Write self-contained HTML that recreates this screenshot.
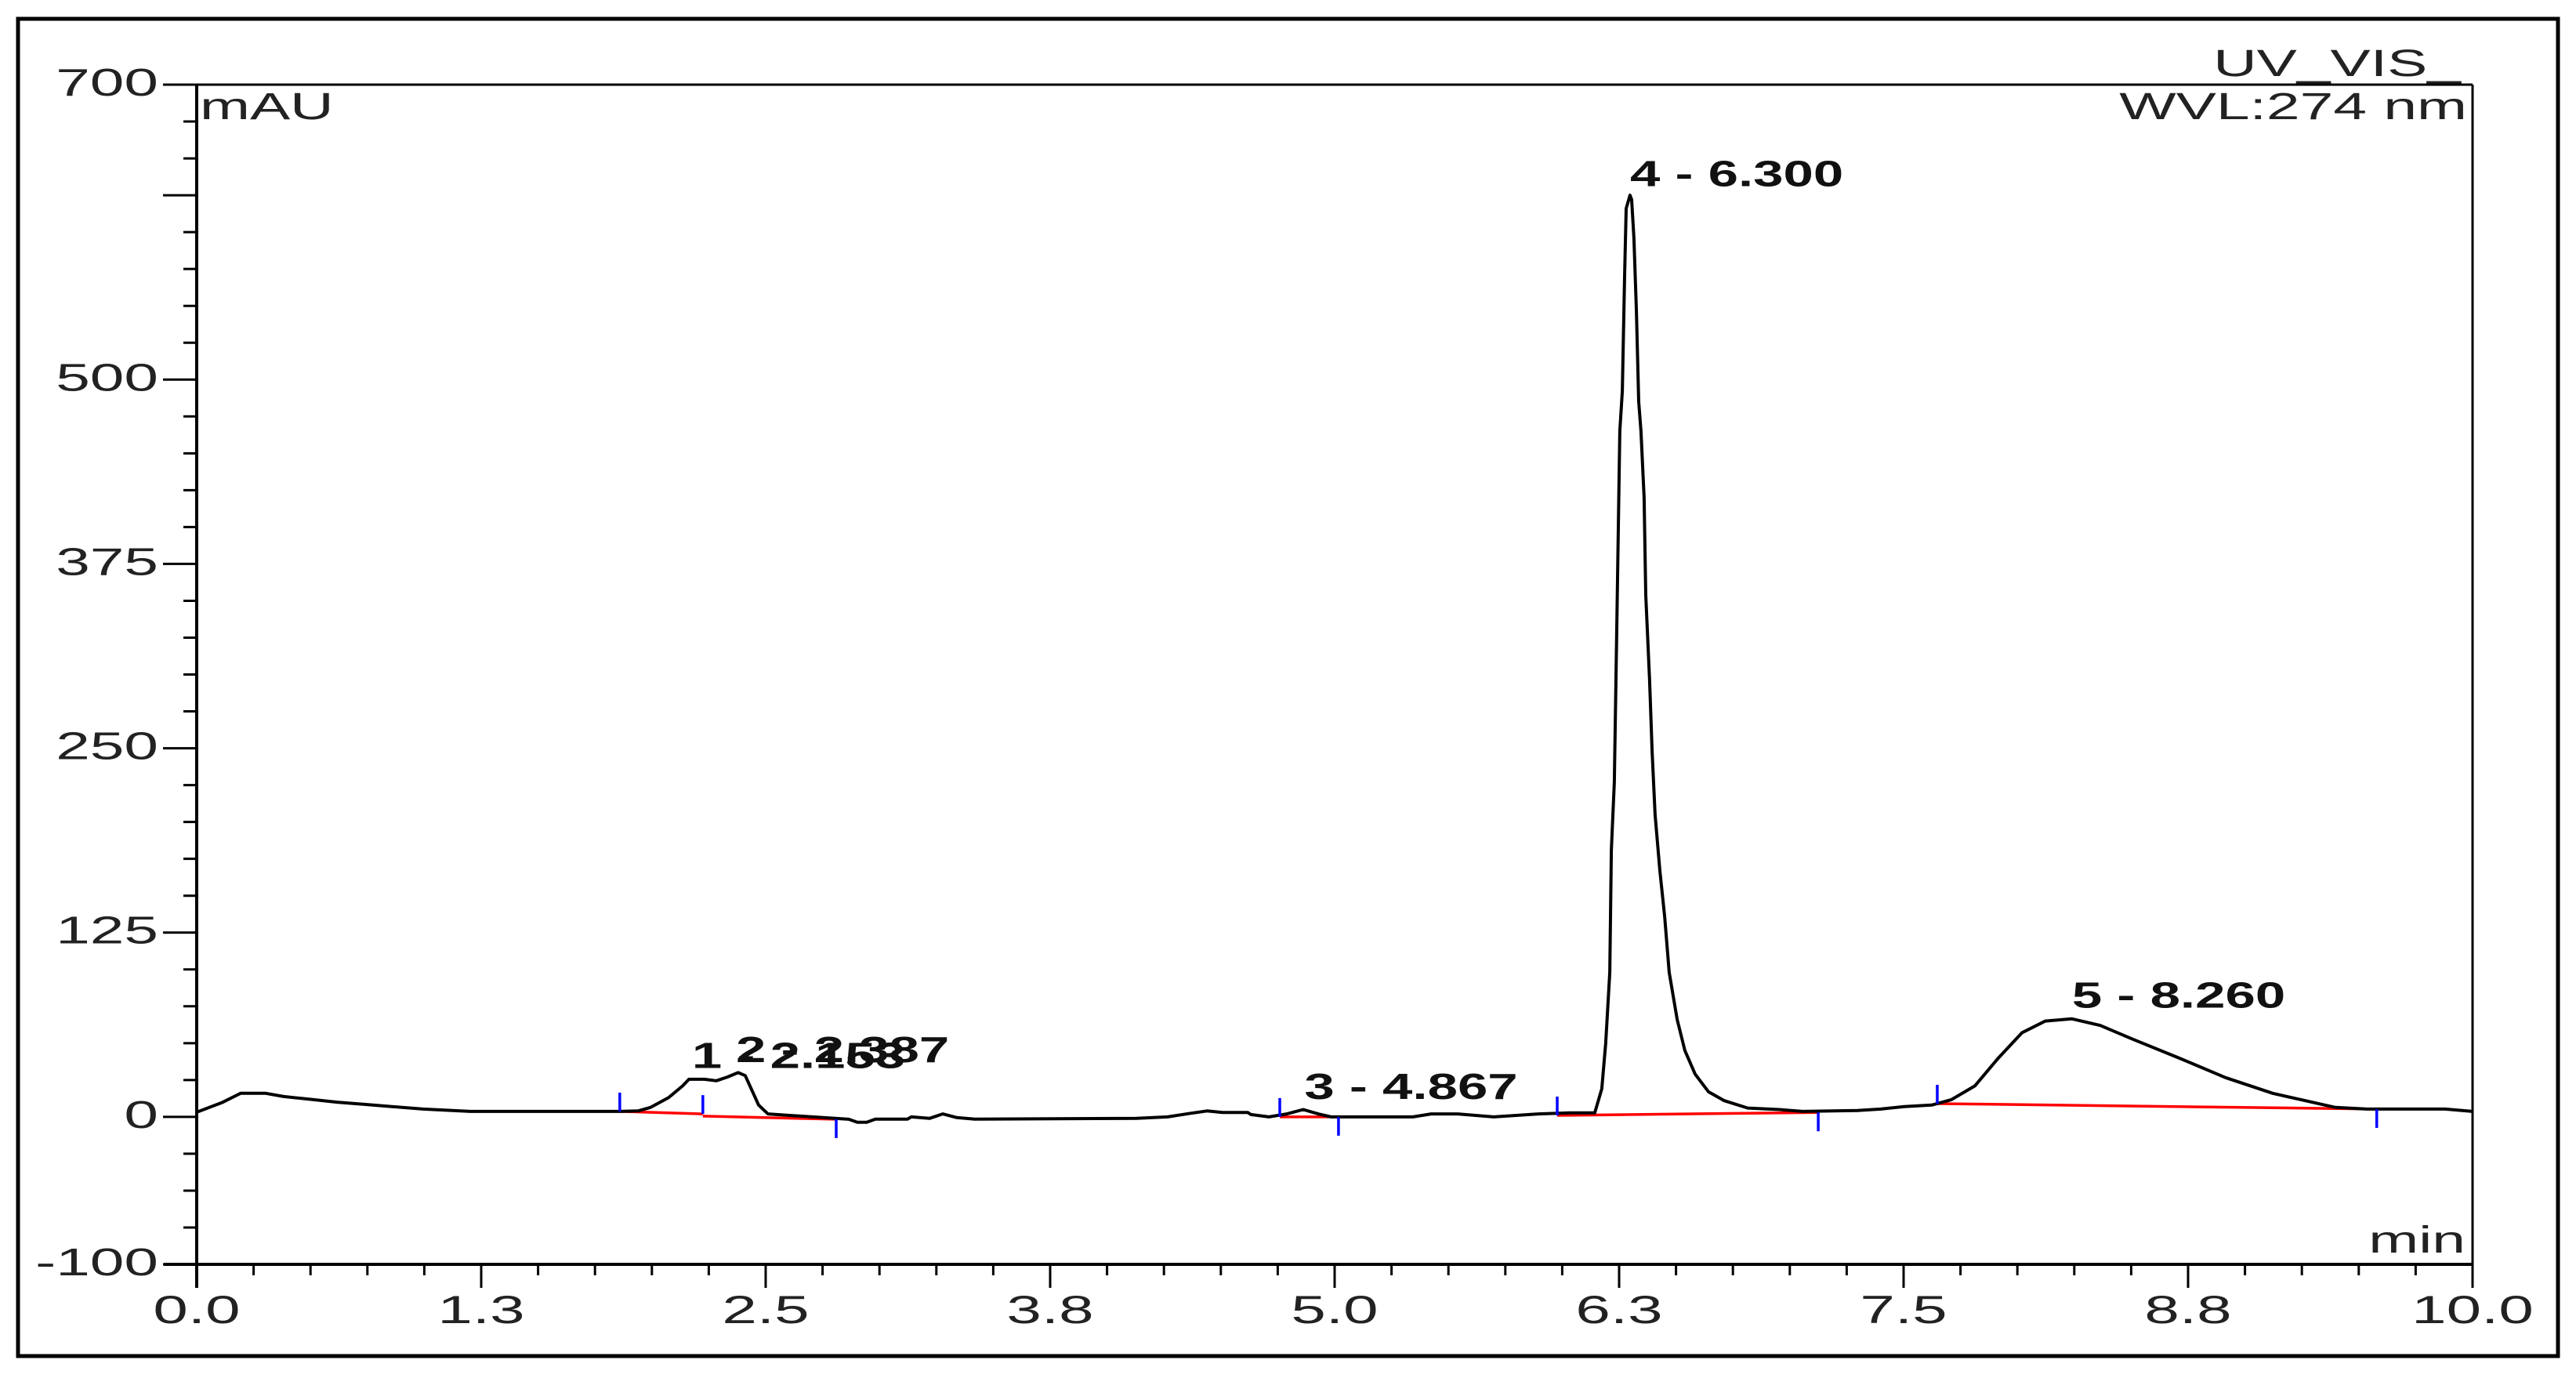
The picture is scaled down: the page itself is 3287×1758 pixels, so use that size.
<!DOCTYPE html>
<html><head><meta charset="utf-8"><style>
html,body{margin:0;padding:0;background:#fff;}
svg{display:block;font-family:"Liberation Sans",Arial,sans-serif;}
</style></head><body>
<svg id="chart" width="3287" height="1758" viewBox="0 0 3287 1758">
<rect x="23" y="24" width="3241" height="1706" fill="none" stroke="#000" stroke-width="5"/>
<g id="axes"></g>
<g id="marks"></g>
<g transform="translate(255,152) scale(1.6,1)"><text x="0" y="0" font-size="48" fill="#222">mAU</text></g>
<g transform="translate(3146,1598) scale(1.6,1)"><text x="0" y="0" font-size="48" fill="#222" text-anchor="end">min</text></g>
<g transform="translate(3140,97) scale(1.6,1)"><text x="0" y="0" font-size="48" fill="#222" text-anchor="end">UV_VIS_</text></g>
<g transform="translate(3148,152) scale(1.6,1)"><text x="0" y="0" font-size="48" fill="#222" text-anchor="end">WVL:274 nm</text></g>
</svg>
<script>
// chart data
const times = [0,0.11,0.193,0.303,0.382,0.513,0.616,0.737,0.857,0.995,1.202,1.859,1.939,1.994,2.073,2.135,2.163,2.231,2.283,2.331,2.379,2.410,2.438,2.469,2.510,2.548,2.707,2.865,2.903,2.944,2.982,3.123,3.140,3.220,3.278,3.340,3.419,4.129,4.266,4.370,4.439,4.508,4.618,4.632,4.711,4.790,4.862,4.928,4.986,5.344,5.424,5.541,5.699,5.895,6.033,6.112,6.143,6.174,6.191,6.209,6.216,6.229,6.240,6.253,6.264,6.274,6.281,6.298,6.305,6.315,6.326,6.336,6.346,6.360,6.367,6.384,6.395,6.408,6.429,6.450,6.470,6.505,6.539,6.584,6.643,6.712,6.815,6.953,7.056,7.297,7.400,7.503,7.624,7.710,7.813,7.917,8.020,8.123,8.240,8.364,8.502,8.709,8.915,9.122,9.294,9.397,9.535,9.879,10];
const signal = [3.2,9.6,16,16,13.8,11.7,10,8.5,7,5.3,3.7,3.7,4,6.4,13,21,25.5,25.5,24.5,27,30,28,18.6,8,2,1.6,0,-1.6,-3.7,-3.7,-1.5,-1.5,0,-1,2,-0.5,-1.5,-1,0,2.5,4,3,3,1.6,0,2,5,2,0,0,2,2,0,2,2.7,2.7,2.7,19,50,98,181,227,334,465,492,570,616,625,622,596,546,485,465,420,354,296,248,205,167,136,98,66,45,29,17,11,6,5,3.7,4.3,5.3,7,8,11.7,21,40,57,65,66.5,62,53,40,26.6,16,10,6.4,5.3,5.3,3.7];
const peakLabels = ["1 - 2.153","2 - 2.387","3 - 4.867","4 - 6.300","5 - 8.260"];
const peakLabelT = [2.176,2.369,4.867,6.298,8.24];
const peakLabelV = [30,34,9,628,71];
const markerT = [1.859,2.224,2.810,4.759,5.017,5.978,7.125,7.648,9.579];
const markerV = [3.7,2,-1.6,0,0,1,3,9,5.3];
const markerDir = [1,1,-1,1,-1,1,-1,1,-1];
const baseT = [[1.859,2.224],[2.224,2.810],[4.759,5.017],[5.978,7.125],[7.648,9.579]];
const baseV = [[3.7,2],[0.5,-1.6],[0,0],[1,3],[9,5.3]];
const xTickLabels = ["0.0","1.3","2.5","3.8","5.0","6.3","7.5","8.8","10.0"];
const yTickValues = [700,500,375,250,125,0,-100];

const NS="http://www.w3.org/2000/svg";
const X0=251,X1=3155,Y0=1613,Y1=108;
const xS=t=>X0+(t-0)/(10-0)*(X1-X0);
const yS=v=>Y0-(v+100)/800*(Y0-Y1);
function mk(tag,attrs,parent){const e=document.createElementNS(NS,tag);for(const k in attrs)e.setAttribute(k,attrs[k]);parent.appendChild(e);return e;}
function stretchedText(x,y,sx,attrs,parent){const g=mk('g',{transform:'translate('+x+','+y+') scale('+sx+',1)'},parent);return mk('text',Object.assign({x:0,y:0},attrs),g);}
const axes=document.getElementById('axes'),marks=document.getElementById('marks');

let e;
e=mk('line',{x1:X0,y1:Y1,x2:X0,y2:Y0+30,stroke:'#000','stroke-width':4},axes);


e=mk('line',{x1:X0-42,y1:Y0,x2:X1,y2:Y0,stroke:'#000','stroke-width':4},axes);


e=mk('line',{x1:X0-42,y1:Y1,x2:X1,y2:Y1,stroke:'#000','stroke-width':3},axes);


e=mk('line',{x1:X1,y1:Y1,x2:X1,y2:Y0,stroke:'#000','stroke-width':3},axes);



for(let v=-100;v<=700;v+=25){
  const major=(v%125===0)||v===-100||v===700;
  e=mk('line',{x1:major?X0-43:X0-17,y1:yS(v),x2:X0,y2:yS(v),stroke:'#000','stroke-width':3},axes);
  
  
}
yTickValues.forEach(v=>{
  e=stretchedText(202,yS(v)+14,1.6,{'font-size':49,'text-anchor':'end',fill:'#222'},axes);
  e.textContent=v;
  
  
});
for(let i=0;i<=40;i++){
  const t=i*0.25,major=i%5===0;
  e=mk('line',{x1:xS(t),y1:Y0,x2:xS(t),y2:Y0+(major?30:14),stroke:'#000','stroke-width':3},axes);
  
  
}
xTickLabels.forEach((s,i)=>{
  e=stretchedText(xS(i*1.25),1688,1.6,{'font-size':50,'text-anchor':'middle',fill:'#222'},axes);
  e.textContent=s;
  
  
});

baseT.forEach((seg,i)=>{
  e=mk('line',{x1:xS(seg[0]),y1:yS(baseV[i][0]),x2:xS(seg[1]),y2:yS(baseV[i][1]),stroke:'#f00','stroke-width':3.5},marks);
  
  
});

const pts=times.map((t,i)=>xS(t).toFixed(1)+','+yS(signal[i]).toFixed(1)).join(' ');
e=mk('polyline',{points:pts,fill:'none',stroke:'#000','stroke-width':4,'stroke-linejoin':'round'},marks);



markerT.forEach((t,i)=>{
  const y=yS(markerV[i]),d=markerDir[i];
  e=mk('line',{x1:xS(t),y1:y,x2:xS(t),y2:y-d*24,stroke:'#00f','stroke-width':3.5},marks);
  
  
});

peakLabels.forEach((s,i)=>{
  e=stretchedText(xS(peakLabelT[i]),yS(peakLabelV[i])-6,1.5,{'font-size':46,'font-weight':'bold',fill:'#111'},marks);
  e.textContent=s;
  
  
});
</script>
</body></html>
